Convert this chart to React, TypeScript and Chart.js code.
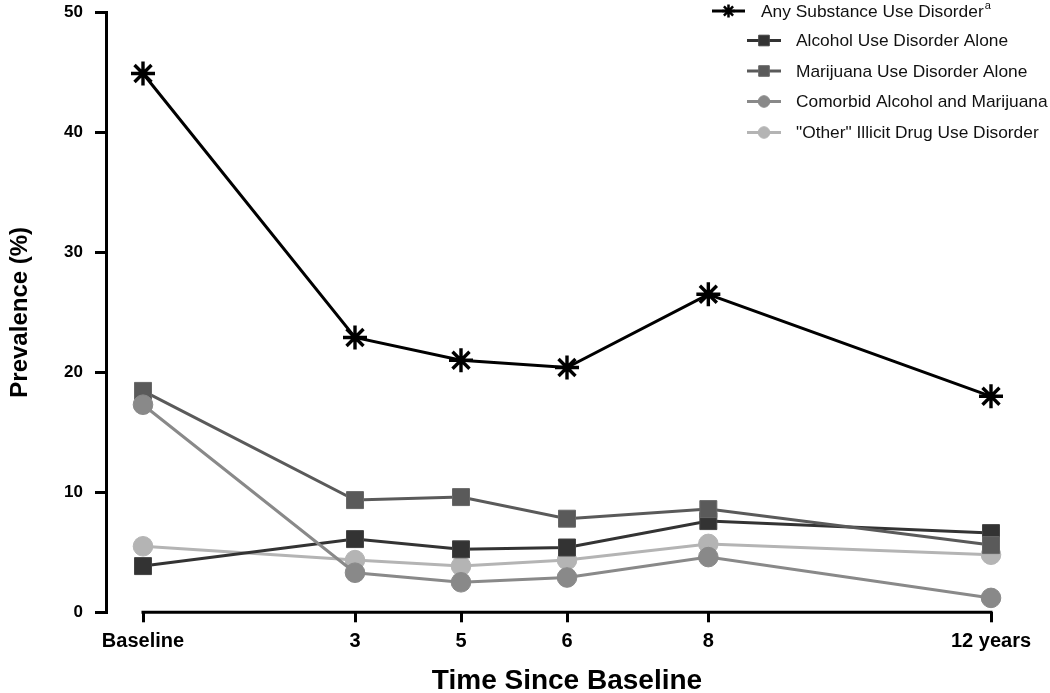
import React, { useEffect, useRef } from 'react';
import { Chart, registerables } from 'chart.js';
import { drawPoint } from 'chart.js/helpers';

Chart.register(...registerables);

// ---- data ----
const timepoints = [0, 3, 4.5, 6, 8, 12];
const tickLabels = ['Baseline', '3', '5', '6', '8', '12 years'];
const anySUD = [44.9, 22.9, 21.0, 20.4, 26.5, 18.0];
const alcoholAlone = [3.85, 6.1, 5.25, 5.4, 7.6, 6.6];
const marijuanaAlone = [18.45, 9.35, 9.6, 7.8, 8.6, 5.6];
const comorbidAM = [17.3, 3.3, 2.5, 2.9, 4.6, 1.2];
const otherIllicit = [5.5, 4.35, 3.85, 4.35, 5.7, 4.8];
const seriesNames = [
  'Any Substance Use Disorder',
  'Alcohol Use Disorder Alone',
  'Marijuana Use Disorder Alone',
  'Comorbid Alcohol and Marijuana',
  '"Other" Illicit Drug Use Disorder',
];
const yTicks = [0, 10, 20, 30, 40, 50];
const xTitle = 'Time Since Baseline';
const yTitle = 'Prevalence (%)';

const FONT = '"Liberation Sans", Arial, Helvetica, sans-serif';

const toXY = (vals: number[]) => vals.map((v, i) => ({ x: timepoints[i], y: v }));

const legendPlugin = {
  id: 'customLegend',
  afterDraw(chart: any) {
    const ctx = chart.ctx as CanvasRenderingContext2D;
    const rows = [11, 40.5, 71, 101.5, 132.5];
    const legendOrder = [0, 1, 2, 3, 4];
    ctx.save();
    legendOrder.forEach((dsIndex, i) => {
      const ds = chart.data.datasets[dsIndex];
      const y = rows[i];
      const x1 = i === 0 ? 712 : 747;
      const x2 = i === 0 ? 745 : 781;
      const tx = i === 0 ? 761 : 796;
      ctx.strokeStyle = ds.borderColor;
      ctx.lineWidth = 3;
      ctx.beginPath();
      ctx.moveTo(x1, y);
      ctx.lineTo(x2, y);
      ctx.stroke();
      ctx.fillStyle = ds.pointBackgroundColor;
      ctx.strokeStyle = ds.pointBorderColor;
      ctx.lineWidth = ds.pointStyle === 'star' ? 2.5 : 1;
      const r = ds.pointStyle === 'star' ? 6.5 : ds.pointStyle === 'rect' ? 7.5 : 5.8;
      drawPoint(ctx, { pointStyle: ds.pointStyle, radius: r, borderWidth: ctx.lineWidth, rotation: 0 } as any, (x1 + x2) / 2, y);
      ctx.fillStyle = '#111';
      ctx.font = `17.35px ${FONT}`;
      ctx.textBaseline = 'middle';
      ctx.textAlign = 'left';
      ctx.fillText(seriesNames[dsIndex], tx, y + 1);
      if (i === 0) {
        const w = ctx.measureText(seriesNames[dsIndex]).width;
        ctx.font = `11px ${FONT}`;
        ctx.fillText('a', tx + w + 1, y - 5);
      }
    });
    ctx.restore();
  },
};

const xAxisLinePlugin = {
  id: 'xAxisLine',
  afterDraw(chart: any) {
    const ctx = chart.ctx as CanvasRenderingContext2D;
    const xs = chart.scales.x;
    const y = chart.chartArea.bottom;
    const xa = xs.getPixelForValue(timepoints[0]);
    const xb = xs.getPixelForValue(timepoints[timepoints.length - 1]);
    ctx.save();
    ctx.strokeStyle = '#000';
    ctx.lineWidth = 3;
    ctx.beginPath();
    ctx.moveTo(xa - 1.5, y);
    ctx.lineTo(xb + 1.5, y);
    ctx.stroke();
    ctx.fillStyle = '#000';
    ctx.font = `bold 28px ${FONT}`;
    ctx.textAlign = 'center';
    ctx.textBaseline = 'middle';
    ctx.fillText(xTitle, (xa + xb) / 2, 681);
    ctx.restore();
  },
};

export default function App() {
  const ref = useRef<HTMLCanvasElement | null>(null);

  useEffect(() => {
    document.body.style.margin = '0';
    if (!ref.current) return;
    const common = { borderWidth: 3, fill: false, tension: 0, clip: false as any };
    const chart = new Chart(ref.current, {
      type: 'line',
      data: {
        datasets: [
          {
            ...common,
            label: seriesNames[0],
            data: toXY(anySUD),
            borderColor: '#000000',
            pointBackgroundColor: '#000000',
            pointBorderColor: '#000000',
            pointStyle: 'star',
            pointRadius: 12,
            pointBorderWidth: 3.4,
            order: 0,
          },
          {
            ...common,
            label: seriesNames[1],
            data: toXY(alcoholAlone),
            borderColor: '#333333',
            pointBackgroundColor: '#333333',
            pointBorderColor: '#444444',
            pointStyle: 'rect',
            pointRadius: 12,
            pointBorderWidth: 1,
            order: 3,
          },
          {
            ...common,
            label: seriesNames[2],
            data: toXY(marijuanaAlone),
            borderColor: '#5a5a5a',
            pointBackgroundColor: '#5a5a5a',
            pointBorderColor: '#686868',
            pointStyle: 'rect',
            pointRadius: 12,
            pointBorderWidth: 1,
            order: 2,
          },
          {
            ...common,
            label: seriesNames[3],
            data: toXY(comorbidAM),
            borderColor: '#898989',
            pointBackgroundColor: '#898989',
            pointBorderColor: '#898989',
            pointStyle: 'circle',
            pointRadius: 9.8,
            pointBorderWidth: 1,
            order: 1,
          },
          {
            ...common,
            label: seriesNames[4],
            data: toXY(otherIllicit),
            borderColor: '#b4b4b4',
            pointBackgroundColor: '#b4b4b4',
            pointBorderColor: '#b4b4b4',
            pointStyle: 'circle',
            pointRadius: 9.8,
            pointBorderWidth: 1,
            order: 4,
          },
        ],
      },
      options: {
        animation: false,
        responsive: false,
        devicePixelRatio: 1,
        layout: { autoPadding: false, padding: { top: 12.3, right: 59, left: 0, bottom: 0 } },
        plugins: { legend: { display: false }, tooltip: { enabled: false } },
        scales: {
          x: {
            type: 'linear',
            min: -0.5236,
            max: 12,
            afterBuildTicks: (scale: any) => {
              scale.ticks = timepoints.map((v) => ({ value: v }));
            },
            afterFit: (scale: any) => {
              scale.height = 693 - 612.3;
              scale.paddingLeft = 0;
              scale.paddingRight = 0;
            },
            ticks: {
              autoSkip: false,
              maxRotation: 0,
              minRotation: 0,
              padding: 7,
              color: '#000',
              font: { family: FONT, size: 20, weight: 'bold' },
              callback: (_v: any, i: number) => tickLabels[i],
            },
            grid: { drawOnChartArea: false, drawTicks: true, tickLength: 10, color: '#000', lineWidth: 3 },
            border: { display: false },
            title: { display: false },
          },
          y: {
            type: 'linear',
            min: 0,
            max: 50,
            afterBuildTicks: (scale: any) => {
              scale.ticks = yTicks.map((v) => ({ value: v }));
            },
            afterFit: (scale: any) => {
              scale.width = 106;
              scale.paddingTop = 0;
              scale.paddingBottom = 0;
            },
            ticks: {
              padding: 12,
              color: '#000',
              font: { family: FONT, size: 17, weight: 'bold' },
            },
            grid: { drawOnChartArea: false, drawTicks: true, tickLength: 11, color: '#000', lineWidth: 3 },
            border: { display: true, color: '#000', width: 3 },
            title: {
              display: true,
              text: yTitle,
              color: '#000',
              font: { family: FONT, size: 24, weight: 'bold' },
              padding: { top: 6, bottom: 0 },
            },
          },
        },
      },
      plugins: [xAxisLinePlugin, legendPlugin],
    });
    return () => chart.destroy();
  }, []);

  return (
    <div style={{ width: 1050, height: 693 }}>
      <canvas ref={ref} width={1050} height={693} style={{ display: 'block', width: 1050, height: 693 }} />
    </div>
  );
}
